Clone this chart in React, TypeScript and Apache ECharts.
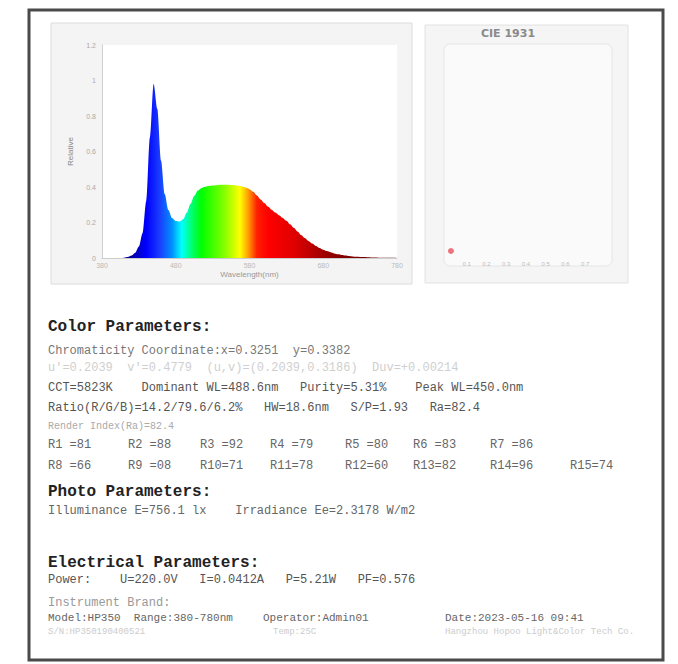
import React, { useEffect, useRef } from "react";
import * as echarts from "echarts";

// ---------- data ----------
const wavelengths = [
  380, 385, 390, 395, 400, 405, 410, 415, 420, 425,
  430, 435, 440, 445, 450, 455, 460, 465, 470, 475,
  480, 485, 490, 495, 500, 505, 510, 515, 520, 525,
  530, 535, 540, 545, 550, 555, 560, 565, 570, 575,
  580, 585, 590, 595, 600, 605, 610, 615, 620, 625,
  630, 635, 640, 645, 650, 655, 660, 665, 670, 675,
  680, 685, 690, 695, 700, 705, 710, 715, 720, 725,
  730, 735, 740, 745, 750, 755, 760, 765, 770, 775,
  780,
];
const relativeIntensity = [
  0, 0, 0, 0, 0, 0, 0.002, 0.006, 0.014, 0.03,
  0.065, 0.14, 0.32, 0.68, 0.98, 0.84, 0.55, 0.36, 0.27, 0.225,
  0.208, 0.205, 0.218, 0.255, 0.305, 0.35, 0.38, 0.395, 0.402, 0.405,
  0.408, 0.41, 0.412, 0.412, 0.412, 0.411, 0.41, 0.407, 0.403, 0.397,
  0.388, 0.373, 0.352, 0.33, 0.31, 0.29, 0.272, 0.256, 0.241, 0.226,
  0.21, 0.19, 0.17, 0.15, 0.13, 0.112, 0.096, 0.081, 0.068, 0.057,
  0.047, 0.039, 0.032, 0.026, 0.021, 0.017, 0.014, 0.011, 0.009, 0.007,
  0.006, 0.005, 0.004, 0.003, 0.003, 0.002, 0.002, 0.001, 0.001, 0.001,
  0,
];
const spectrumXName = "Wavelength(nm)";
const spectrumYName = "Relative";
const cieTitle = "CIE 1931";
const ciePoint = [[0.02, 0.03]];

const colorHeading = "Color Parameters:";
const chromaLine = "Chromaticity Coordinate:x=0.3251  y=0.3382";
const uvLine = "u'=0.2039  v'=0.4779  (u,v)=(0.2039,0.3186)  Duv=+0.00214";
const cctLine = "CCT=5823K    Dominant WL=488.6nm   Purity=5.31%    Peak WL=450.0nm";
const ratioLine = "Ratio(R/G/B)=14.2/79.6/6.2%   HW=18.6nm   S/P=1.93   Ra=82.4";
const renderLine = "Render Index(Ra)=82.4";
const renderRow1 = ["R1 =81", "R2 =88", "R3 =92", "R4 =79", "R5 =80", "R6 =83", "R7 =86"];
const renderRow2 = ["R8 =66", "R9 =08", "R10=71", "R11=78", "R12=60", "R13=82", "R14=96", "R15=74"];
const photoHeading = "Photo Parameters:";
const photoLine = "Illuminance E=756.1 lx    Irradiance Ee=2.3178 W/m2";
const elecHeading = "Electrical Parameters:";
const elecLine = "Power:    U=220.0V   I=0.0412A   P=5.21W   PF=0.576";
const instrumentLabel = "Instrument Brand:";
const instrumentRow = ["Model:HP350  Range:380-780nm", "Operator:Admin01", "Date:2023-05-16 09:41"];
const instrumentNotes = ["S/N:HP350190400521", "Temp:25C", "Hangzhou Hopoo Light&Color Tech Co."];

// ---------- styles ----------
const spectralColors: [number, string][] = [
  [380, "#000070"], [420, "#0000a0"], [440, "#0000ff"], [458, "#1a3cff"],
  [475, "#0090ff"], [488, "#00ffff"], [500, "#00ff80"], [515, "#00ff00"],
  [545, "#80ff00"], [567, "#ffff00"], [578, "#ffa000"], [590, "#ff2000"],
  [605, "#ff0000"], [640, "#e00000"], [670, "#b00000"], [700, "#850000"],
  [780, "#600000"],
];
const rowX1 = [48, 128, 200, 270, 345, 413, 490];
const rowX2 = [48, 128, 200, 270, 345, 413, 490, 570];
const mono = "'Liberation Mono', 'DejaVu Sans Mono', monospace";

function txt(text: string, x: number, y: number, size: number, fill: string, bold = false) {
  return {
    type: "text",
    x,
    y,
    silent: true,
    style: {
      text,
      fill,
      font: `${bold ? "bold " : ""}${size}px ${mono}`,
      verticalAlign: "middle",
    },
  };
}

export default function App() {
  const ref = useRef<HTMLDivElement>(null);

  useEffect(() => {
    if (!ref.current) return;
    const chart = echarts.init(ref.current, undefined, { renderer: "svg" });
    const wMin = wavelengths[0];
    const wMax = wavelengths[wavelengths.length - 1];
    const stops = spectralColors.map(([w, c]) => ({ offset: (w - wMin) / (wMax - wMin), color: c }));

    const graphics: any[] = [
      {
        type: "rect",
        z: -10,
        silent: true,
        shape: { x: 29, y: 10, width: 634, height: 650 },
        style: { fill: "#ffffff", stroke: "#4a4a4a", lineWidth: 3 },
      },
      {
        type: "rect",
        z: -9,
        silent: true,
        shape: { x: 51, y: 23, width: 361, height: 261 },
        style: { fill: "#f4f4f4", stroke: "#dcdcdc", lineWidth: 1 },
      },
      {
        type: "rect",
        z: -9,
        silent: true,
        shape: { x: 425, y: 25, width: 203, height: 258 },
        style: { fill: "#f5f5f5", stroke: "#e2e2e2", lineWidth: 1 },
      },
      {
        type: "rect",
        z: -8,
        silent: true,
        shape: { x: 444, y: 44, width: 168, height: 222, r: 6 },
        style: { fill: "#fafafa", stroke: "#e6e6e6", lineWidth: 1 },
      },
      {
        type: "text",
        x: 508,
        y: 33,
        silent: true,
        style: {
          text: cieTitle,
          fill: "#8a8a8a",
          font: "bold 11px 'DejaVu Sans', sans-serif",
          align: "center",
          verticalAlign: "middle",
        },
      },
      txt(colorHeading, 48, 327, 16, "#222", true),
      txt(chromaLine, 48, 351, 12, "#777"),
      txt(uvLine, 48, 368, 12, "#cfcfcf"),
      txt(cctLine, 48, 388, 12, "#555"),
      txt(ratioLine, 48, 408, 12, "#555"),
      txt(renderLine, 48, 426, 10, "#aaa"),
      ...renderRow1.map((t, i) => txt(t, rowX1[i], 445, 12, "#666")),
      ...renderRow2.map((t, i) => txt(t, rowX2[i], 466, 12, "#666")),
      txt(photoHeading, 48, 492, 16, "#222", true),
      txt(photoLine, 48, 511, 12, "#666"),
      txt(elecHeading, 48, 563, 16, "#222", true),
      txt(elecLine, 48, 580, 12, "#555"),
      txt(instrumentLabel, 48, 603, 12, "#999"),
      txt(instrumentRow[0], 48, 618, 11, "#666"),
      txt(instrumentRow[1], 263, 618, 11, "#666"),
      txt(instrumentRow[2], 445, 618, 11, "#666"),
      txt(instrumentNotes[0], 48, 632, 9, "#cccccc"),
      txt(instrumentNotes[1], 273, 632, 9, "#cccccc"),
      txt(instrumentNotes[2], 445, 632, 9, "#cccccc"),
    ];

    chart.setOption({
      animation: false,
      backgroundColor: "#ffffff",
      grid: [
        {
          left: 102,
          top: 45,
          width: 295,
          height: 213,
          show: true,
          backgroundColor: "#ffffff",
          borderWidth: 0,
        },
        { left: 447, top: 48, width: 158, height: 210, show: false },
      ],
      xAxis: [
        {
          type: "value",
          gridIndex: 0,
          min: 380,
          max: 780,
          interval: 100,
          name: spectrumXName,
          nameLocation: "middle",
          nameGap: 12,
          nameTextStyle: { color: "#999", fontSize: 8 },
          axisLine: { lineStyle: { color: "#cccccc" } },
          axisTick: { show: false },
          axisLabel: { color: "#bbb", fontSize: 7, margin: 4 },
          splitLine: { show: false },
        },
        {
          type: "value",
          gridIndex: 1,
          min: 0,
          max: 0.8,
          interval: 0.1,
          axisLine: { show: false },
          axisTick: { show: false },
          axisLabel: { color: "#bbb", fontSize: 6, margin: 3, showMinLabel: false, showMaxLabel: false },
          splitLine: { show: false },
        },
      ],
      yAxis: [
        {
          type: "value",
          gridIndex: 0,
          min: 0,
          max: 1.2,
          interval: 0.2,
          name: spectrumYName,
          nameLocation: "middle",
          nameGap: 28,
          nameTextStyle: { color: "#888", fontSize: 8 },
          axisLine: { show: true, lineStyle: { color: "#d0d0d0" } },
          axisTick: { show: false },
          axisLabel: { color: "#aaa", fontSize: 7, margin: 6 },
          splitLine: { show: false },
        },
        {
          type: "value",
          gridIndex: 1,
          min: 0,
          max: 0.9,
          axisLine: { show: false },
          axisTick: { show: false },
          axisLabel: { show: false },
          splitLine: { show: false },
        },
      ],
      series: [
        {
          type: "line",
          xAxisIndex: 0,
          yAxisIndex: 0,
          data: wavelengths.map((w, i) => [w, relativeIntensity[i]]),
          showSymbol: false,
          smooth: 0.3,
          smoothMonotone: "x",
          lineStyle: { width: 0 },
          areaStyle: {
            opacity: 1,
            color: { type: "linear", x: 0, y: 0, x2: 1, y2: 0, colorStops: stops },
          },
          silent: true,
        },
        {
          type: "scatter",
          xAxisIndex: 1,
          yAxisIndex: 1,
          data: ciePoint,
          symbolSize: 6,
          itemStyle: { color: "#e8505b", opacity: 0.8 },
          silent: true,
        },
      ],
      graphic: graphics,
    });

    return () => chart.dispose();
  }, []);

  return (
    <div
      ref={ref}
      style={{ position: "fixed", left: 0, top: 0, width: 678, height: 664 }}
    />
  );
}
